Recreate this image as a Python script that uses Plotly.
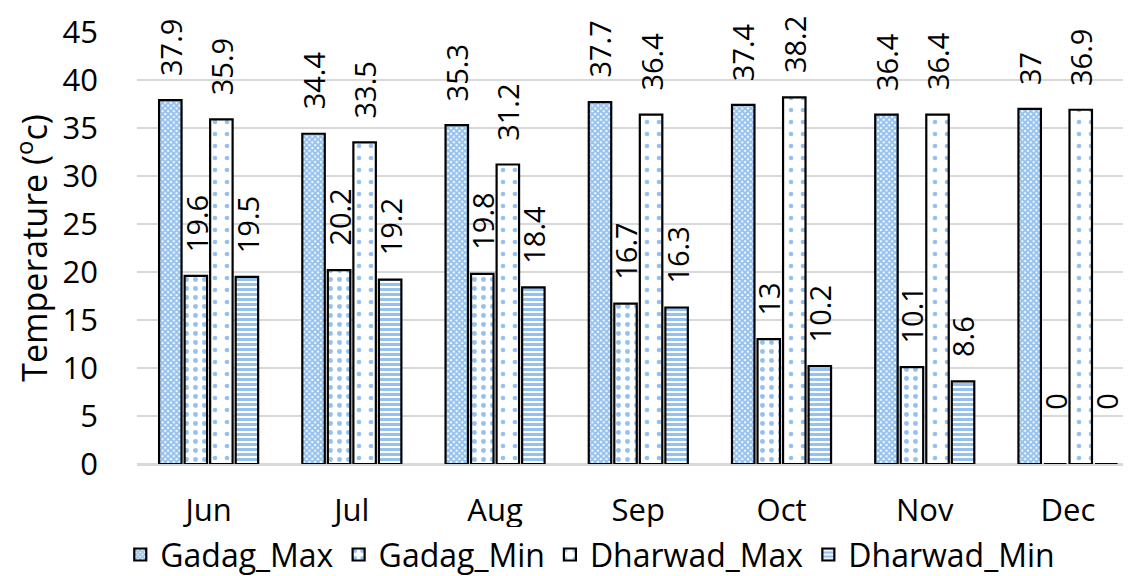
import plotly.graph_objects as go

months = ["Jun", "Jul", "Aug", "Sep", "Oct", "Nov", "Dec"]
gadag_max = [37.9, 34.4, 35.3, 37.7, 37.4, 36.4, 37]
gadag_min = [19.6, 20.2, 19.8, 16.7, 13, 10.1, 0]
dharwad_max = [35.9, 33.5, 31.2, 36.4, 38.2, 36.4, 36.9]
dharwad_min = [19.5, 19.2, 18.4, 16.3, 10.2, 8.6, 0]

series = [
    ("Gadag_Max", gadag_max, dict(shape="x", size=4, solidity=0.75)),
    ("Gadag_Min", gadag_min, dict(shape=".", size=9, solidity=0.24)),
    ("Dharwad_Max", dharwad_max, dict(shape=".", size=12, solidity=0.12)),
    ("Dharwad_Min", dharwad_min, dict(shape="-", size=5, solidity=0.6)),
]

BLUE = "#2a84de"
FONT = "Open Sans"
BARGAP = 0.287
BARGROUPGAP = 0.12

fig = go.Figure()
for name, vals, pat in series:
    fig.add_trace(go.Bar(
        name=name, x=months, y=vals,
        marker=dict(color="white", line=dict(color="black", width=2.2),
                    pattern=dict(fgcolor=BLUE, bgcolor="white", fillmode="overlay", **pat)),
    ))

# data labels (rotated, placed above each bar)
W = 1 - BARGAP
ann = []
for k, (name, vals, _) in enumerate(series):
    for i, v in enumerate(vals):
        ann.append(dict(
            x=i - W / 2 + W / 4 * (k + 0.5), y=v, xref="x", yref="y",
            text=f"{v:g}", showarrow=False, textangle=-90,
            yanchor="bottom", xanchor="center", yshift=22 if v > 0 else 52,
            font=dict(family=FONT, size=29, color="black"),
        ))

# page body has an 8px margin, so the figure is sized/offset to compensate
fig.update_layout(
    width=1123, height=568,
    margin=dict(l=129, r=0, t=24, b=112, autoexpand=False),
    paper_bgcolor="white", plot_bgcolor="white",
    barmode="group", bargap=BARGAP, bargroupgap=BARGROUPGAP,
    font=dict(family=FONT, size=30, color="black"),
    annotations=ann,
    showlegend=True,
    legend=dict(orientation="h", x=0.456, xanchor="center", xref="paper",
                y=-0.21, yanchor="middle", font=dict(size=32), traceorder="normal",
                itemwidth=30),
    xaxis=dict(type="category", range=[-0.5, 6.44], showgrid=False,
               showline=True, linecolor="#d9d9d9", linewidth=1.5,
               ticks="", ticklabelstandoff=18, tickfont=dict(size=31)),
    yaxis=dict(range=[0, 45], dtick=5, showgrid=True, gridcolor="#d9d9d9",
               gridwidth=1.5, zeroline=True, zerolinecolor="#d9d9d9",
               ticks="", ticklabelstandoff=38, tickfont=dict(size=31),
               title=dict(text="Temperature (<sup>o</sup>c)", font=dict(size=34), standoff=12)),
)

fig.write_html("out.html")
